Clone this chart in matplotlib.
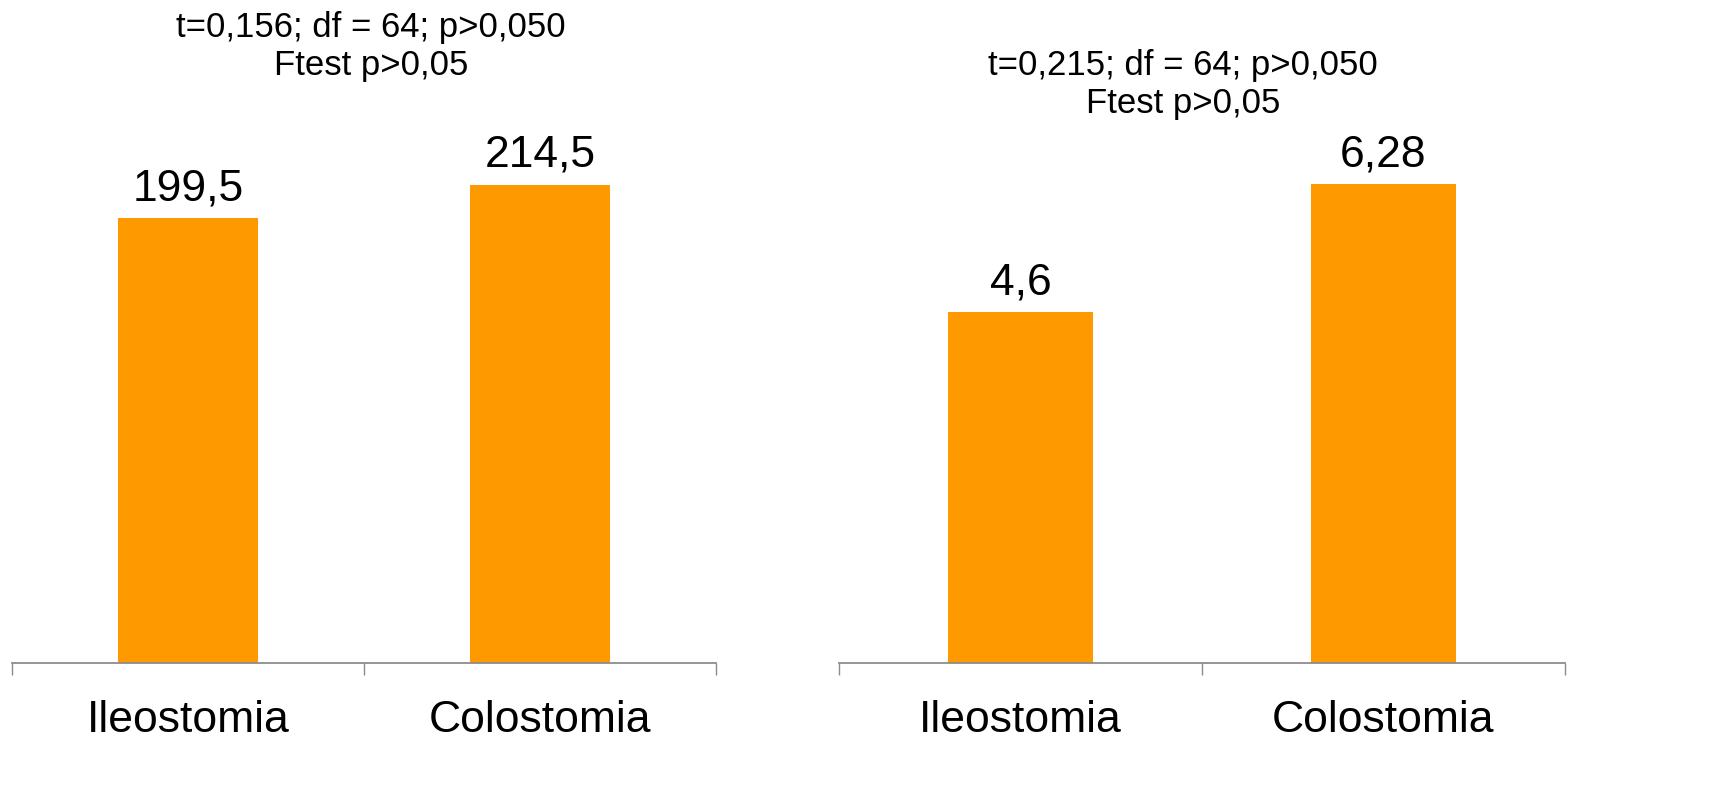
import matplotlib
matplotlib.use("Agg")
import matplotlib.pyplot as plt

plt.rcParams['font.family'] = ['Liberation Sans', 'DejaVu Sans']

categories = ["Ileostomia", "Colostomia"]
left_values = [199.5, 214.5]
left_labels = ["199,5", "214,5"]
right_values = [4.6, 6.28]
right_labels = ["4,6", "6,28"]
left_note = ["t=0,156; df = 64; p>0,050", "Ftest p>0,05"]
right_note = ["t=0,215; df = 64; p>0,050", "Ftest p>0,05"]

W, H = 1721, 806
fig = plt.figure(figsize=(W / 100, H / 100), dpi=100)

bar_color = "#FF9900"
axis_color = "#8C8C8C"

def px(x0, x1, ytop, ybot):
    return [x0 / W, (H - ybot) / H, (x1 - x0) / W, (ybot - ytop) / H]

def panel(rect, values, labels, ymax):
    ax = fig.add_axes(rect)
    xs = list(range(len(values)))
    ax.bar(xs, values, width=0.4, color=bar_color, zorder=2)
    ax.set_xlim(-0.5, len(values) - 0.5)
    ax.set_ylim(0, ymax)
    for s in ["top", "right", "left"]:
        ax.spines[s].set_visible(False)
    ax.spines["bottom"].set_color(axis_color)
    ax.spines["bottom"].set_linewidth(1.3)
    ax.set_yticks([])
    ax.set_xticks(xs)
    ax.set_xticklabels(categories, fontsize=32)
    ax.tick_params(axis="x", which="major", length=0, pad=27)
    ax.set_xticks([i - 0.5 for i in range(len(values) + 1)], minor=True)
    ax.tick_params(axis="x", which="minor", length=8.6, width=1.0, color=axis_color)
    for x, v, lab in zip(xs, values, labels):
        ax.annotate(lab, (x, v), xytext=(0, 13), textcoords="offset points",
                    ha="center", va="baseline", fontsize=32)
    return ax

panel(px(12, 716, 120, 663), left_values, left_labels, 543 / 2.229)
panel(px(839, 1565, 120, 663), right_values, right_labels, 543 / 76.2)

def note(xc, y1, y2, lines):
    fig.text(xc / W, (H - y1) / H, lines[0], ha="center", va="baseline", fontsize=25)
    fig.text(xc / W, (H - y2) / H, lines[1], ha="center", va="baseline", fontsize=25)

note(371, 37, 75, left_note)
note(1183, 75, 113, right_note)

fig.savefig("out.png", dpi=100, facecolor="white")
